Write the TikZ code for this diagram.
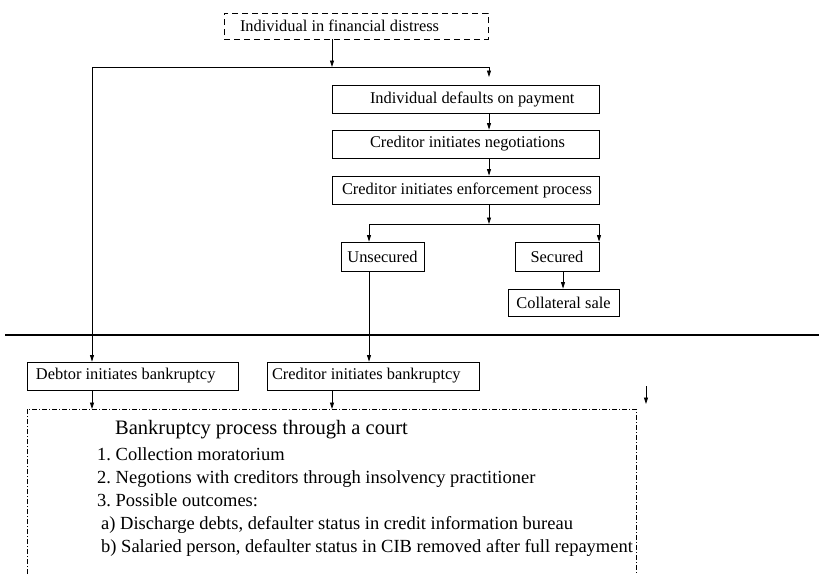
\documentclass[tikz,border=0pt]{standalone}
\usepackage{fontspec}
\setmainfont{Liberation Serif}
\usetikzlibrary{arrows.meta}
\frenchspacing
\newcommand\boxtxt[3]{\makebox[#1][l]{\hspace*{#2}#3}}
\begin{document}
\begin{tikzpicture}[x=1pt,y=-1pt,
  every node/.style={inner sep=0pt},
  lbox/.style={draw, line width=0.8pt, minimum height=28pt, inner xsep=0pt, font=\fontsize{16.4}{19}\selectfont},
  cbox/.style={lbox, minimum width=#1},
  arr/.style={-{Triangle[length=6.5pt,width=4pt]}, line width=0.8pt},
  ln/.style={line width=0.8pt},
  txt/.style={anchor=base west, font=\fontsize{18.5}{22}\selectfont},
  ttl/.style={anchor=base west, font=\fontsize{20.5}{24}\selectfont}]
\useasboundingbox (0,0) rectangle (819,574);

% top
\node[lbox, dashed, dash pattern=on 6pt off 4pt, minimum height=26pt] (dis) at (356,26) {\boxtxt{264pt}{16pt}{Individual in financial distress}};

\coordinate (jl) at (92,67);
\coordinate (jm) at (332,67);
\coordinate (jr) at (489,67);
\coordinate (jre) at (489,77);

\node[lbox] (def) at (465.5,99) {\boxtxt{267pt}{38pt}{Individual defaults on payment}};
\node[lbox] (neg) at (465.5,144) {\boxtxt{267pt}{38pt}{Creditor initiates negotiations}};
\node[lbox] (enf) at (465.5,190) {\boxtxt{267pt}{10pt}{Creditor initiates enforcement process}};

\coordinate (sp) at (489,224);
\coordinate (sl) at (369,224);
\coordinate (sr) at (599,224);

\node[cbox=83pt, minimum height=29pt] (uns) at (382.5,256.5) {Unsecured};
\node[cbox=84pt, minimum height=29pt] (sec) at (557,256.5) {Secured};
\node[cbox=111pt, minimum height=27pt] (col) at (563.5,302.5) {Collateral sale};

\coordinate (cs) at (563,271);

\node[lbox] (dbk) at (132.5,376) {\boxtxt{211pt}{9pt}{Debtor initiates bankruptcy}};
\node[lbox] (cbk) at (373,376) {\boxtxt{212pt}{5pt}{Creditor initiates bankruptcy}};

\coordinate (ctl) at (27,409);
\coordinate (ctr) at (636,409);
\coordinate (cbl) at (27,574);
\coordinate (cbr) at (636,574);
\coordinate (fa) at (646,386);
\coordinate (fb) at (646,404);

% connectors
\draw[arr] (jm |- dis.south) -- (jm);
\draw[ln] (jl) -- (jr);
\draw[arr] (jr) -- (jre);
\draw[arr] (jl) -- (jl |- dbk.north);
\draw[arr] (jr |- def.south) -- (jr |- neg.north);
\draw[arr] (jr |- neg.south) -- (jr |- enf.north);
\draw[arr] (jr |- enf.south) -- (sp);
\draw[ln] (sl) -- (sr);
\draw[arr] (sl) -- (sl |- uns.north);
\draw[arr] (sr) -- (sr |- sec.north);
\draw[arr] (cs) -- (cs |- col.north);
\draw[arr] (sl |- uns.south) -- (sl |- cbk.north);

% divider
\draw[line width=2pt] (5,335) -- (819,335);

\draw[arr] (jl |- dbk.south) -- (jl |- ctl);
\draw[arr] (jm |- cbk.south) -- (jm |- ctl);
\draw[arr] (fa) -- (fb);

% court frame
\draw[ln, dash pattern=on 5pt off 2pt on 1pt off 2pt] (cbl) -- (ctl) -- (ctr) -- (cbr);

\node[ttl] (t0) at (115,434) {Bankruptcy process through a court};
\node[txt] (t1) at (97,460) {1. Collection moratorium};
\node[txt] (t2) at (97,483) {2. Negotions with creditors through insolvency practitioner};
\node[txt] (t3) at (97,506) {3. Possible outcomes:};
\node[txt] (t4) at (101,529) {a) Discharge debts, defaulter status in credit information bureau};
\node[txt] (t5) at (101,552) {b) Salaried person, defaulter status in CIB removed after full repayment};
\end{tikzpicture}
\end{document}
